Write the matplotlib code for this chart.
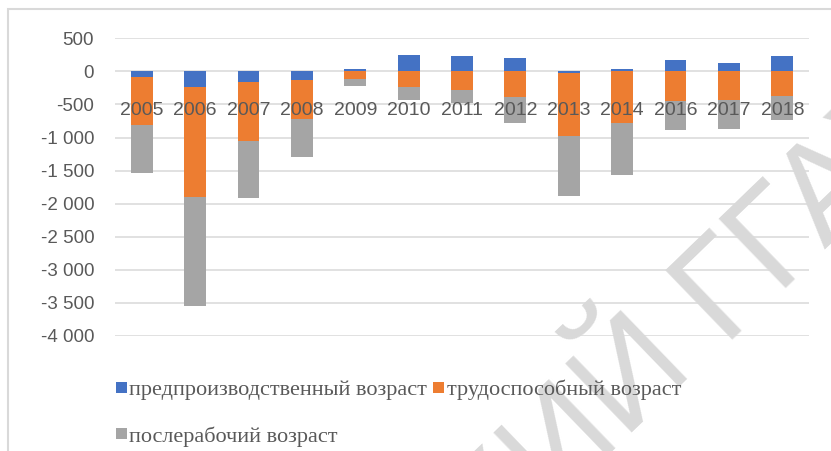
import matplotlib
matplotlib.use("Agg")
import matplotlib.pyplot as plt
import numpy as np
from matplotlib.patches import Rectangle

years = ['2005', '2006', '2007', '2008', '2009', '2010', '2011', '2012',
         '2013', '2014', '2016', '2017', '2018']
pre_working = [-85, -240, -165, -125, 30, 245, 225, 200, -25, 30, 165, 125, 225]
working = [-730, -1660, -885, -600, -110, -240, -280, -390, -950, -785, -450, -440, -375]
post_working = [-725, -1650, -860, -565, -105, -200, -195, -385, -915, -780, -440, -435, -365]
series_names = ['предпроизводственный возраст', 'трудоспособный возраст', 'послерабочий возраст']
colors = ['#4472C4', '#ED7D31', '#A5A5A5']
yticks = list(range(-4000, 501, 500))

W, H = 831, 451
fig = plt.figure(figsize=(W / 100, H / 100), dpi=100)
fig.patch.set_facecolor('white')

ax = fig.add_axes([115 / W, (H - 336) / H, 694 / W, (336 - 38.3) / H])
ax.set_facecolor('none')

x = np.arange(len(years))
pos_base = np.zeros(len(years))
neg_base = np.zeros(len(years))
containers = []
for vals, name, col in zip([pre_working, working, post_working], series_names, colors):
    v = np.array(vals, dtype=float)
    bottom = np.where(v >= 0, pos_base, neg_base)
    c = ax.bar(x, v, width=0.41, bottom=bottom, color=col, label=name, zorder=1, linewidth=0)
    containers.append(c)
    pos_base = pos_base + np.where(v >= 0, v, 0)
    neg_base = neg_base + np.where(v < 0, v, 0)

for t in yticks:
    ax.axhline(t, color='#d9d9d9', lw=1.1, zorder=0.5)

ax.set_xlim(-0.5, len(years) - 0.5)
ax.set_ylim(-4000, 500)
ax.set_yticks(yticks)
ax.set_yticklabels([f"{t:,}".replace(",", " ") for t in yticks])
ax.set_xticks(x)
ax.set_xticklabels(years)
for s in ['top', 'right', 'left']:
    ax.spines[s].set_visible(False)
ax.spines['bottom'].set_position(('data', 0))
ax.spines['bottom'].set_visible(False)
ax.tick_params(axis='y', length=0, pad=15, labelsize=13.5, labelcolor='#595959')
ax.tick_params(axis='x', length=0, pad=22, labelsize=14, labelcolor='#595959')
for lab in ax.get_yticklabels() + ax.get_xticklabels():
    lab.set_family('Liberation Sans')

# chart frame (left and top edges visible)
fig.patches.append(Rectangle((8 / W, -0.1), 1.2, (H - 9) / H + 0.1, transform=fig.transFigure,
                             fill=False, edgecolor='#d9d9d9', lw=1.5, zorder=0))

# watermark
wm = dict(fontsize=100, color='#d9d9d9', family='Liberation Sans', rotation=44,
          rotation_mode='anchor', va='baseline', zorder=1)
fig.text(721 / W, (H - 339) / H, 'ГГАУ', ha='left', **wm)
fig.text(694 / W, (H - 366) / H, 'СКИЙ', ha='right', **wm)

handles = [containers[0], containers[2], containers[1]]
labels = [series_names[0], series_names[2], series_names[1]]
leg = fig.legend(handles, labels, ncol=2, loc='upper left',
                 bbox_to_anchor=(116 / W, (H - 380) / H), borderaxespad=0, borderpad=0,
                 frameon=False, handlelength=0.5, handleheight=0.42, handletextpad=0.1,
                 columnspacing=0.27, labelspacing=1.15,
                 prop={'family': 'Liberation Serif', 'size': 16})
leg.set_zorder(5)
for t in leg.get_texts():
    t.set_color('#595959')

fig.savefig('out.png', dpi=100, facecolor='white')
